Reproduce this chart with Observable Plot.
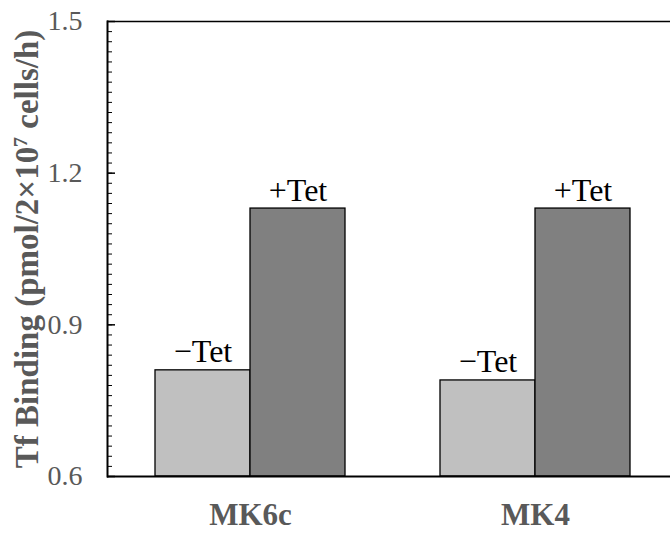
<!DOCTYPE html>
<html>
<head>
<meta charset="utf-8">
<script src="https://cdn.jsdelivr.net/npm/d3@7"></script>
<script src="https://cdn.jsdelivr.net/npm/@observablehq/plot@0.6"></script>
<style>
  html, body { margin: 0; padding: 0; background: #fff; }
  #chart { width: 670px; height: 534px; }
</style>
</head>
<body>
<div id="chart"></div>
<script>
// ---- data ----
const groups = ["MK6c", "MK4"];
const conditions = ["\u2212Tet", "+Tet"];
const minusTet = [0.81, 0.79];
const plusTet = [1.13, 1.13];
const yDomain = [0.6, 1.5];
const majorTicks = [0.6, 0.9, 1.2, 1.5];
const majorLabels = ["0.6", "0.9", "1.2", "1.5"];
const minorTicks = d3.range(30, 76, 1).map(i => +(i * 0.02).toFixed(2)).filter(v => v >= 0.6 && v <= 1.5);
const yTitle = "Tf Binding (pmol/2\u00d710\u2077 cells/h)";
const yTitleParts = ["Tf Binding (pmol/2\u00d710", "7", " cells/h)"];

// ---- table built from arrays ----
const rows = [];
groups.forEach((g, i) => {
  rows.push({group: g, cond: conditions[0], value: minusTet[i]});
  rows.push({group: g, cond: conditions[1], value: plusTet[i]});
});

const font = "'Liberation Serif', 'Times New Roman', serif";
const gray = "#595959";
const half = 95; // half of each group's band (one bar width)

const chart = Plot.plot({
  width: 670,
  height: 534,
  marginLeft: 107,
  marginRight: 0,
  marginTop: 21,
  marginBottom: 58,
  style: {fontFamily: font, background: "#fff", overflow: "visible"},
  x: {domain: groups, range: [155, 630], paddingInner: 1 / 3, paddingOuter: 0, label: null},
  y: {domain: yDomain, label: null},
  marks: [
    Plot.barY(rows.filter(d => d.cond === conditions[0]), {
      x: "group", y1: () => yDomain[0], y2: "value", insetRight: half,
      fill: "#c0c0c0", stroke: "#000", strokeWidth: 1.3
    }),
    Plot.barY(rows.filter(d => d.cond === conditions[1]), {
      x: "group", y1: () => yDomain[0], y2: "value", insetLeft: half,
      fill: "#808080", stroke: "#000", strokeWidth: 1.3
    }),
    Plot.text(rows.filter(d => d.cond === conditions[0]), {
      x: "group", y: "value", text: "cond", dx: -half / 2, dy: -8,
      lineAnchor: "bottom", fontSize: 32, fill: "#000"
    }),
    Plot.text(rows.filter(d => d.cond === conditions[1]), {
      x: "group", y: "value", text: "cond", dx: half / 2, dy: -8,
      lineAnchor: "bottom", fontSize: 32, fill: "#000"
    }),
    Plot.ruleY([yDomain[0]], {stroke: "#000", strokeWidth: 2}),
    Plot.ruleY([yDomain[1]], {stroke: "#000", strokeWidth: 1.5}),
    Plot.axisY({ticks: minorTicks, tickSize: -5, fill: "none", label: null, stroke: "#000"}),
    Plot.axisY({ticks: majorTicks, tickSize: -8, fill: "none", label: null, stroke: "#000", strokeWidth: 1.5}),
    Plot.axisY({
      ticks: majorTicks, tickSize: 0, tickPadding: 25, stroke: "none",
      tickFormat: d3.format(".1f"), fontSize: 28, fill: gray,
      label: yTitle, labelAnchor: "center", labelOffset: 93, labelArrow: "none"
    }),
    Plot.axisX({
      tickSize: 0, tickPadding: 26, fontSize: 31, fontWeight: "bold", fill: gray, label: null
    }),
    Plot.frame({anchor: "left", stroke: "#000", strokeWidth: 2})
  ]
});

// y tick labels: enforce size on the texts and their group
chart.querySelectorAll("text").forEach(t => {
  if (majorLabels.includes(t.textContent.trim())) {
    t.setAttribute("font-size", "28");
    t.style.fontSize = "28px";
    if (t.parentNode && t.parentNode.tagName.toLowerCase() === "g") {
      t.parentNode.setAttribute("font-size", "28");
    }
  }
});

// style the axis title (bold, gray, real superscript)
chart.querySelectorAll("text").forEach(t => {
  if (t.textContent.startsWith("Tf Binding")) {
    t.setAttribute("font-weight", "bold");
    t.setAttribute("font-size", "33");
    t.style.fontSize = "33px";
    t.style.fontWeight = "bold";
    while (t.firstChild) t.removeChild(t.firstChild);
    const ns = "http://www.w3.org/2000/svg";
    yTitleParts.forEach((p, i) => {
      const s = document.createElementNS(ns, "tspan");
      s.textContent = p;
      if (i === 1) {
        s.setAttribute("baseline-shift", "super");
        s.setAttribute("font-size", "60%");
      }
      t.appendChild(s);
    });
  }
});
document.getElementById("chart").appendChild(chart);
</script>
</body>
</html>
